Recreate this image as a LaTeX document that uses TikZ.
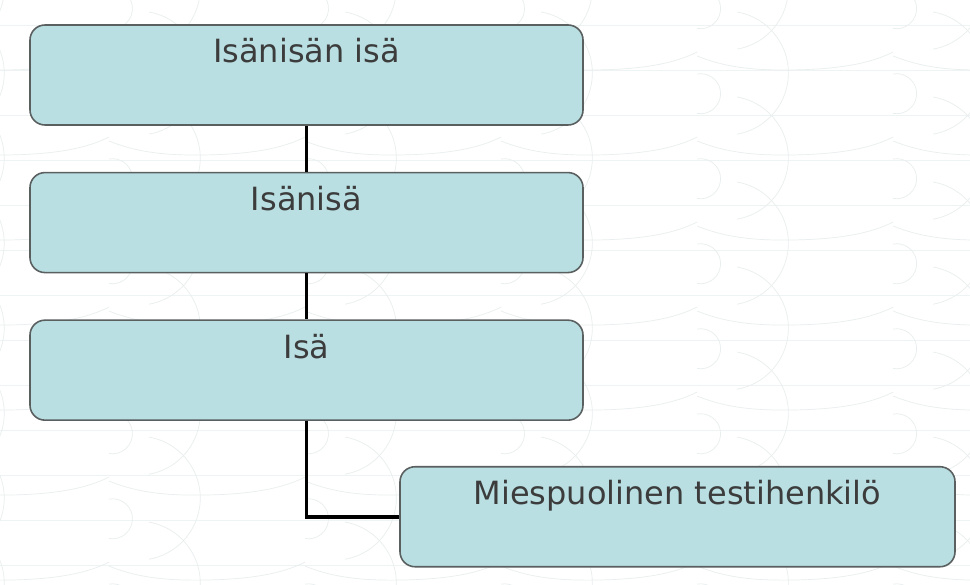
\documentclass[tikz,border=0pt]{standalone}
\usepackage{fontspec}
\setmainfont{DejaVu Sans}
\usetikzlibrary{positioning}
\definecolor{turkoosi}{HTML}{B9DFE2}
\definecolor{reunaHarmaa}{HTML}{5A5F60}
\definecolor{tekstiHarmaa}{HTML}{3C3C3C}
\definecolor{kuvioHarmaa}{HTML}{E9EEEE}
\definecolor{viivaHarmaa}{HTML}{EEF3F3}
\newcommand{\aaltoRuutu}[2]{%
  \draw[kuvioHarmaa] (#1-110,#2+18) .. controls (#1-50,#2+18) and (#1-20,#2+10) .. (#1,#2);   % nouseva aalto
  \draw[kuvioHarmaa] (#1,#2+4) .. controls (#1+25,#2+14) and (#1+50,#2+18) .. (#1+86,#2+18);  % laskeva aalto
  \draw[kuvioHarmaa] (#1,#2+22) arc[start angle=-100, end angle=100, radius=20];              % pieni kaari
  \draw[kuvioHarmaa] (#1+40,#2-40) arc[start angle=-80, end angle=80, radius=62];             % iso kaari
}
\tikzset{
  sukulainen/.style={draw=reunaHarmaa, line width=0.9pt, fill=turkoosi,
    rounded corners=0.3cm, minimum width=11.06cm, inner xsep=0pt, inner ysep=0pt,
    text height=0.76cm, text depth=1.24cm, text=tekstiHarmaa,
    font=\fontsize{18.2}{22}\selectfont},
  linja/.style={line width=2.1pt, black}
}
\begin{document}
\begin{tikzpicture}
  \fill[white] (0,0) rectangle (19.4,-11.7);
  \useasboundingbox (0,0) rectangle (19.4,-11.7);
  % taustakuvio
  \begin{scope}[x=0.02cm,y=-0.02cm]
    \clip (0,0) rectangle (970,585);
    \foreach \yy in {25,70,...,565} \draw[viivaHarmaa] (0,\yy) -- (970,\yy);
    \foreach \xx in {-87,109,305,501,697,893,1089}
      \foreach \yy in {-33,52,137,222,307,392,477,562}
        \aaltoRuutu{\xx}{\yy};
  \end{scope}
  % sukupuu
  \node[sukulainen] (isoisanIsa) at (6.13,-1.5) {Isänisän isä};
  \node[sukulainen, below=0.92cm of isoisanIsa] (isoisa) {Isänisä};
  \node[sukulainen, below=0.92cm of isoisa] (isa) {Isä};
  \node[sukulainen, minimum width=11.1cm, below=0.9cm of isa.south west,
    anchor=north west, xshift=7.4cm] (testihenkilo) {Miespuolinen testihenkilö};
  \draw[linja] (isoisanIsa) -- (isoisa);
  \draw[linja] (isoisa) -- (isa);
  \draw[linja] (isa) |- (testihenkilo);
\end{tikzpicture}
\end{document}
